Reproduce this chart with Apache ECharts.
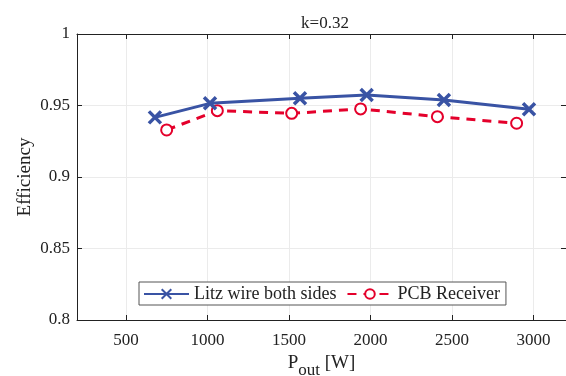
<!DOCTYPE html>
<html>
<head>
<meta charset="utf-8">
<script src="https://cdn.jsdelivr.net/npm/echarts@6/dist/echarts.min.js"></script>
<style>html,body{margin:0;padding:0;background:#fff}#c{width:566px;height:376px}</style>
</head>
<body>
<div id="c"></div>
<script>
const xTicks = [500, 1000, 1500, 2000, 2500, 3000];
const yTicks = [0.8, 0.85, 0.9, 0.95, 1];
const litzP = [678, 1016, 1568, 1977, 2451, 2973];
const litzEff = [0.9417, 0.9515, 0.955, 0.9573, 0.9538, 0.9473];
const pcbP = [750, 1061, 1517, 1940, 2411, 2897];
const pcbEff = [0.9329, 0.9464, 0.9445, 0.9476, 0.9422, 0.9376];
const seriesNames = ['Litz wire both sides', 'PCB Receiver'];
const titleText = 'k=0.32';

const FONT = '"Liberation Serif", "Times New Roman", serif';
const BLUE = '#3953a4';
const RED = '#e4002b';
const chart = echarts.init(document.getElementById('c'), null, {renderer: 'canvas'});
const xSeries1 = litzP.map((p, i) => [p, litzEff[i]]);
const xSeries2 = pcbP.map((p, i) => [p, pcbEff[i]]);
const crossPath = 'path://M0,0L10,10M10,0L0,10';

chart.setOption({
  animation: false,
  backgroundColor: '#fff',
  title: {
    text: titleText, left: 320, top: 10, textAlign: 'center',
    textStyle: {fontFamily: FONT, fontSize: 17, fontWeight: 'normal', color: '#222'}
  },
  grid: {left: 77, top: 34, width: 489, height: 286, containLabel: false, outerBoundsMode: 'none'},
  legend: {
    left: 139, top: 282, width: 370,
    itemWidth: 45, itemHeight: 12, itemGap: 10,
    padding: [3, 6, 2, 4],
    borderColor: '#555', borderWidth: 1, backgroundColor: '#fff',
    textStyle: {fontFamily: FONT, fontSize: 18, color: '#222'},
    data: seriesNames
  },
  xAxis: [{
    type: 'value', min: 200, max: 3200,
    name: 'P{sub|out} [W]', nameLocation: 'middle', nameGap: 28, nameMoveOverlap: false,
    nameTextStyle: {fontFamily: FONT, fontSize: 19, color: '#222',
      rich: {sub: {fontFamily: FONT, fontSize: 17, color: '#222', verticalAlign: 'bottom', padding: [14, 0, 0, 0]}}},
    axisLine: {show: true, lineStyle: {color: '#222', width: 1}},
    axisTick: {show: true, inside: true, length: 5, customValues: xTicks, lineStyle: {color: '#222'}},
    axisLabel: {customValues: xTicks, fontFamily: FONT, fontSize: 17, color: '#222', margin: 12,
      formatter: v => String(v)},
    splitLine: {show: true, lineStyle: {color: '#ebebeb', width: 1}}
  }, {
    type: 'value', min: 200, max: 3200, position: 'top',
    axisLine: {show: true, lineStyle: {color: '#222', width: 1}},
    axisTick: {show: true, inside: true, length: 5, customValues: xTicks, lineStyle: {color: '#222'}},
    axisLabel: {show: false},
    splitLine: {show: false}
  }],
  yAxis: [{
    type: 'value', min: 0.8, max: 1, interval: 0.05,
    name: 'Efficiency', nameLocation: 'middle', nameGap: 42, nameMoveOverlap: false,
    nameTextStyle: {fontFamily: FONT, fontSize: 19, color: '#222'},
    axisLine: {show: true, lineStyle: {color: '#222', width: 1}},
    axisTick: {show: true, inside: true, length: 5, lineStyle: {color: '#222'}},
    axisLabel: {fontFamily: FONT, fontSize: 17, color: '#222', margin: 7,
      formatter: v => String(parseFloat(v.toFixed(2)))},
    splitLine: {show: true, lineStyle: {color: '#ebebeb', width: 1}}
  }, {
    type: 'value', min: 0.8, max: 1, interval: 0.05, position: 'right',
    axisLine: {show: true, lineStyle: {color: '#222', width: 1}},
    axisTick: {show: true, inside: true, length: 5, lineStyle: {color: '#222'}},
    axisLabel: {show: false},
    splitLine: {show: false}
  }],
  series: [{
    name: seriesNames[0], type: 'line', data: xSeries1,
    symbol: crossPath, symbolSize: 12, showSymbol: true,
    lineStyle: {color: BLUE, width: 3},
    itemStyle: {color: BLUE, borderColor: BLUE, borderWidth: 3.5},
    z: 3
  }, {
    name: seriesNames[1], type: 'line', data: xSeries2,
    symbol: 'emptyCircle', symbolSize: 11, showSymbol: true,
    lineStyle: {color: RED, width: 3, type: [9, 7]},
    itemStyle: {color: RED, borderColor: RED, borderWidth: 3},
    z: 2
  }]
});
</script>
</body>
</html>
